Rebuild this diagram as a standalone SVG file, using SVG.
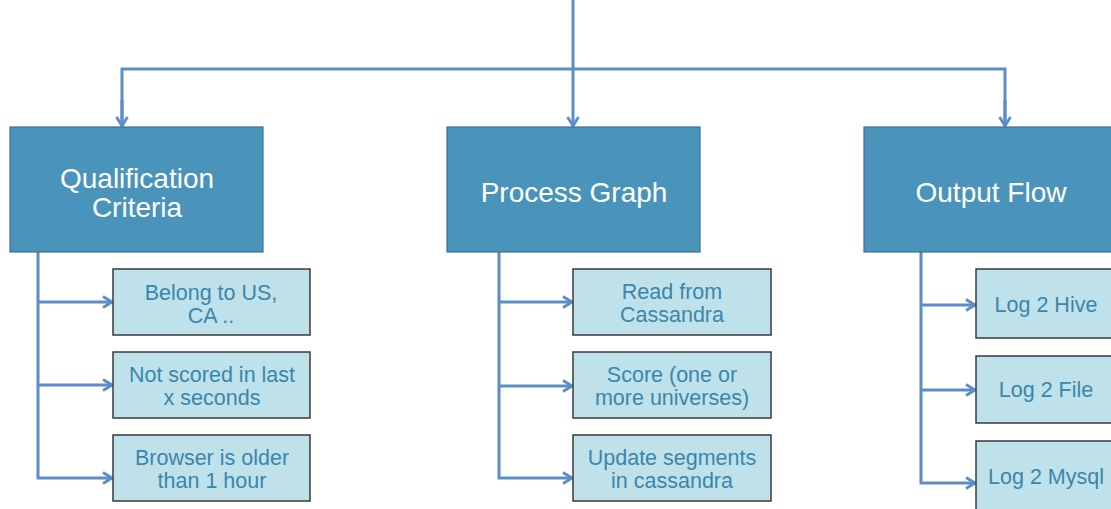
<svg xmlns="http://www.w3.org/2000/svg" width="1111" height="509" viewBox="0 0 1111 509">
<defs>
<style>
.big{fill:#4a94bb;stroke:#3d6f95;stroke-width:1.2}
.small{fill:#bfe1ea;stroke:#3a3a3a;stroke-width:1.5}
.bt{font-family:"Liberation Sans",Arial,sans-serif;font-size:28px;fill:#ffffff;text-anchor:middle}
.st{font-family:"Liberation Sans",Arial,sans-serif;font-size:21.5px;fill:#3b86ad;text-anchor:middle}
.c{fill:none;stroke:#5b8ec6;stroke-width:3}
</style>
<marker id="ah" viewBox="0 0 14 14" refX="12" refY="7" markerWidth="14" markerHeight="14" markerUnits="userSpaceOnUse" orient="auto">
<polyline points="3,1.5 12,7 3,12.5" fill="none" stroke="#5b8ec6" stroke-width="2.8"/>
</marker>
</defs>
<rect width="1111" height="509" fill="#ffffff"/>
<g id="connectors">
<path class="c" d="M573,0 V126" marker-end="url(#ah)"/>
<path class="c" d="M122,126 V69 H1005 V126" />
<path class="c" d="M122,100 V126" marker-end="url(#ah)"/>
<path class="c" d="M1005,100 V126" marker-end="url(#ah)"/>
<path class="c" d="M38,252 V478 H112" marker-end="url(#ah)"/>
<path class="c" d="M38,302 H112" marker-end="url(#ah)"/>
<path class="c" d="M38,385 H112" marker-end="url(#ah)"/>
<path class="c" d="M499,252 V478 H572" marker-end="url(#ah)"/>
<path class="c" d="M499,302 H572" marker-end="url(#ah)"/>
<path class="c" d="M499,386 H572" marker-end="url(#ah)"/>
<path class="c" d="M921,252 V483 H975" marker-end="url(#ah)"/>
<path class="c" d="M921,305 H975" marker-end="url(#ah)"/>
<path class="c" d="M921,390 H975" marker-end="url(#ah)"/>
</g>
<g id="qualification">
<rect class="big" x="10" y="127" width="253" height="125"/>
<text class="bt" x="137" y="188">Qualification</text>
<text class="bt" x="137" y="217">Criteria</text>
</g>
<g id="process">
<rect class="big" x="447" y="127" width="253" height="125"/>
<text class="bt" x="574" y="202">Process Graph</text>
</g>
<g id="output">
<rect class="big" x="864" y="127" width="260" height="125"/>
<text class="bt" x="991" y="202">Output Flow</text>
</g>
<g id="q1">
<rect class="small" x="113" y="269" width="197" height="66"/>
<text class="st" x="211" y="300">Belong to US,</text>
<text class="st" x="211" y="323">CA ..</text>
</g>
<g id="q2">
<rect class="small" x="113" y="352" width="197" height="66"/>
<text class="st" x="212" y="382">Not scored in last</text>
<text class="st" x="212" y="405">x seconds</text>
</g>
<g id="q3">
<rect class="small" x="113" y="435" width="197" height="66"/>
<text class="st" x="212" y="465">Browser is older</text>
<text class="st" x="212" y="488">than 1 hour</text>
</g>
<g id="p1">
<rect class="small" x="573" y="269" width="198" height="66"/>
<text class="st" x="672" y="299">Read from</text>
<text class="st" x="672" y="322">Cassandra</text>
</g>
<g id="p2">
<rect class="small" x="573" y="352" width="198" height="66"/>
<text class="st" x="672" y="382">Score (one or</text>
<text class="st" x="672" y="405">more universes)</text>
</g>
<g id="p3">
<rect class="small" x="573" y="435" width="198" height="66"/>
<text class="st" x="672" y="465">Update segments</text>
<text class="st" x="672" y="488">in cassandra</text>
</g>
<g id="o1">
<rect class="small" x="976" y="269" width="150" height="69"/>
<text class="st" x="1046" y="312">Log 2 Hive</text>
</g>
<g id="o2">
<rect class="small" x="976" y="356" width="150" height="67"/>
<text class="st" x="1046" y="397">Log 2 File</text>
</g>
<g id="o3">
<rect class="small" x="976" y="441" width="150" height="80"/>
<text class="st" x="1046" y="484">Log 2 Mysql</text>
</g>
</svg>
